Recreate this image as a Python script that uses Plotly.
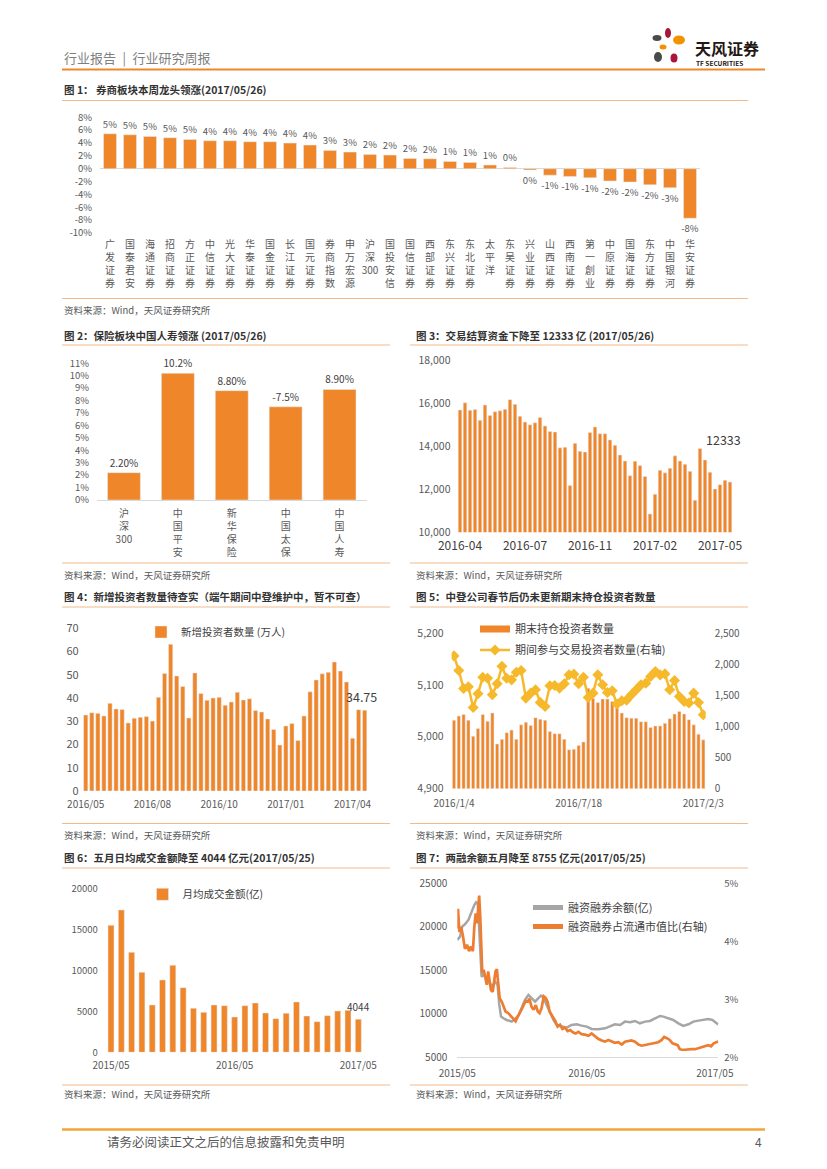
import plotly.graph_objects as go
import pandas as pd

W, H = 827, 1169
FONT = "Noto Sans CJK SC"
ORANGE = "#F0862A"
GOLD = "#F6B92B"
GREY_LINE = "#A6A6A6"
LINE_ORANGE = "#ED7D31"
AXIS_TXT = "#595959"
SEP = "#F4B98A"


def px(x):
    return x / W


def py(y):
    return 1 - y / H


# ---------------- data ----------------
CATS1 = ["广发证券", "国泰君安", "海通证券", "招商证券", "方正证券", "中信证券", "光大证券", "华泰证券",
         "国金证券", "长江证券", "国元证券", "券商指数", "申万宏源", "沪深300", "国投安信", "国信证券",
         "西部证券", "东兴证券", "东北证券", "太平洋", "东吴证券", "兴业证券", "山西证券", "西南证券",
         "第一創业", "中原证券", "国海证券", "东方证券", "中国银河", "华安证券"]
VALS1 = [5.44, 5.28, 5.03, 4.82, 4.56, 4.35, 4.35, 4.2, 4.2, 3.99, 3.68, 2.85, 2.59, 2.23, 2.12, 1.6,
         1.55, 1.14, 0.98, 0.57, 0.2, -0.2, -1.0, -1.2, -1.4, -1.9, -2.07, -2.5, -2.95, -7.7]
Y1_TICKS = [8, 6, 4, 2, 0, -2, -4, -6, -8, -10]

CATS2 = ["沪深300", "中国平安", "新华保险", "中国太保", "中国人寿"]
VALS2 = [2.2, 10.2, 8.8, 7.5, 8.9]
LABELS2 = ["2.20%", "10.2%", "8.80%", "-7.5%", "8.90%"]
Y2_TICKS = list(range(0, 12))

VALS3 = [15680, 16010, 15670, 15700, 15200, 15910, 15420, 15600, 15640, 15710,
         16160, 15940, 15390, 15120, 14990, 15090, 15330, 14940, 14680, 14660,
         13920, 13950, 12170, 14130, 13760, 13730, 14630, 14890, 14580, 14580,
         14290, 14040, 13590, 13310, 12630, 13300, 13100, 12590, 10850, 11770,
         12880, 12760, 12970, 13550, 13310, 13160, 12830, 11490, 13890, 13360,
         12790, 12010, 12210, 12420, 12333]
X3_TICKPOS = [0, 13, 26, 39, 52]
X3_TICKS = ["2016-04", "2016-07", "2016-11", "2017-02", "2017-05"]

VALS4 = [32.7, 33.7, 33.4, 32.3, 37.7, 35.3, 35.1, 29.3, 31.3, 31.7,
         32.0, 30.1, 40.3, 50.6, 63.1, 49.5, 45.0, 31.4, 50.8, 42.0,
         39.0, 40.0, 40.3, 36.9, 38.3, 42.5, 39.2, 39.7, 34.6, 34.0,
         31.0, 26.5, 19.8, 28.0, 29.0, 21.7, 32.3, 42.7, 47.8, 50.4,
         51.1, 55.5, 51.6, 46.9, 22.7, 35.0, 34.75]
X4_TICKPOS = [0, 11, 22, 33, 44]
X4_TICKS = ["2016/05", "2016/08", "2016/10", "2017/01", "2017/04"]

BARS5 = [5032, 5040, 5043, 5032, 5001, 5016, 5043, 5030, 5046, 4986,
         4995, 5008, 5013, 4995, 5023, 5028, 5022, 5037, 5034, 5032,
         5010, 5006, 5006, 4995, 4975, 4976, 4983, 4990, 5094, 5074,
         5066, 5073, 5073, 5068, 5061, 5046, 5037, 5036, 5036, 5029,
         5029, 5018, 5021, 5021, 5026, 5035, 5044, 5049, 5044, 5033,
         5023, 5005, 4994]
LINE5 = [2136, 1900, 1611, 1638, 1306, 1526, 1793, 1777, 1510, 1686,
         1970, 1777, 1750, 1874, 1900, 1456, 1536, 1590, 1387, 1322,
         1654, 1660, 1617, 1686, 1831, 1842, 1686, 1793, 1467, 1536,
         1831, 1670, 1547, 1574, 1360, 1413, 1424, 1509, 1590, 1670,
         1697, 1803, 1884, 1830, 1846, 1590, 1739, 1482, 1402, 1376,
         1536, 1386, 1188]
X5_TICKPOS = [0, 26, 52]
X5_TICKS = ["2016/1/4", "2016/7/18", "2017/2/3"]

VALS6 = [15488, 17358, 12195, 9756, 5772, 8821, 10610, 7886, 5366, 4878, 5772, 5691, 4309,
         5691, 6016, 4797, 4106, 4756, 6138, 4431, 3740, 4472, 5041, 5122, 4044]
X6_TICKPOS = [0, 12, 24]
X6_TICKS = ["2015/05", "2016/05", "2017/05"]

START7 = "2015-05-04"
DAYS7_BAL = [0, 8, 14, 22, 32, 41, 49, 54, 59, 62, 66, 70, 76, 85, 94, 101, 109, 116, 121, 126,
             133, 142, 157, 168, 176, 185, 195, 205, 214, 224, 233, 241, 248, 257, 267, 277, 286,
             301, 315, 329, 344, 358, 373, 387, 406, 426, 440, 454, 469, 483, 498, 512, 526, 541,
             555, 570, 584, 594, 608, 622, 637, 651, 666, 680, 695, 709, 723, 735, 744, 752]
BAL7 = [18490, 18870, 20020, 20290, 20790, 21740, 22510, 22820, 22700, 20590, 17910, 14270, 14460,
        14080, 13510, 13120, 13700, 13310, 11015, 9674, 9483, 9291, 9100, 9483, 9789, 10632, 11590,
        12165, 11782, 11400, 11782, 12088, 11858, 11015, 10250, 9291, 8716, 8525, 8410, 8716, 8793,
        8640, 8525, 8257, 8218, 8333, 8525, 8793, 8716, 9100, 9023, 9176, 8908, 9100, 9176, 9483,
        9751, 9674, 9483, 9291, 8908, 8602, 8793, 9100, 9215, 9330, 9406, 9291, 9023, 8755]
DAYS7_RATIO = [0, 2, 6, 11, 16, 22, 28, 34, 39, 45, 49, 53, 57, 61, 63, 66, 69, 72, 76, 81, 85, 89,
               93, 97, 102, 107, 110, 114, 118, 122, 128, 134, 139, 147, 155, 161, 168, 174, 180,
               185, 191, 197, 203, 208, 214, 220, 226, 232, 237, 243, 249, 255, 260, 266, 272, 278,
               283, 289, 296, 303, 310, 318, 326, 333, 341, 349, 358, 368, 378, 387, 397, 406, 416,
               426, 435, 445, 454, 464, 474, 483, 493, 502, 512, 522, 531, 541, 550, 560, 570, 579,
               589, 596, 604, 612, 620, 627, 635, 641, 647, 656, 666, 675, 685, 695, 704, 714, 723,
               731, 739, 746, 752]
RATIO7 = [4.22, 4.56, 4.16, 4.25, 4.10, 3.87, 3.94, 3.83, 3.91, 3.83, 4.25, 4.48, 4.31, 4.71, 4.79,
          4.45, 3.76, 3.45, 3.51, 3.39, 3.25, 3.48, 3.33, 3.16, 3.13, 3.39, 3.48, 3.52, 3.31, 3.02,
          2.96, 2.85, 2.79, 2.76, 2.70, 2.67, 2.62, 2.70, 2.76, 2.82, 2.90, 2.97, 2.96, 3.01, 2.87,
          2.82, 2.90, 2.79, 2.76, 2.85, 3.05, 3.02, 2.96, 2.79, 2.73, 2.67, 2.62, 2.53, 2.56, 2.49,
          2.51, 2.45, 2.47, 2.43, 2.41, 2.44, 2.40, 2.39, 2.37, 2.41, 2.36, 2.32, 2.29, 2.27, 2.30,
          2.28, 2.25, 2.26, 2.22, 2.27, 2.28, 2.29, 2.27, 2.22, 2.20, 2.21, 2.22, 2.24, 2.24, 2.26,
          2.30, 2.35, 2.33, 2.30, 2.24, 2.22, 2.21, 2.14, 2.13, 2.13, 2.14, 2.14, 2.14, 2.16, 2.18,
          2.19, 2.21, 2.19, 2.24, 2.26, 2.27]
X7_TICKVALS = ["2015-05-04", "2016-05-11", "2017-05-15"]
X7_TICKS = ["2015/05", "2016/05", "2017/05"]

SOURCE = "资料来源：Wind，天风证券研究所"


def stack(s):
    # vertical stacked label (digits kept together)
    parts, buf = [], ""
    for ch in s:
        if ch.isdigit():
            buf += ch
        else:
            if buf:
                parts.append(buf)
                buf = ""
            parts.append(ch)
    if buf:
        parts.append(buf)
    return "<br>".join(parts)


def dates(days):
    base = pd.Timestamp(START7)
    return [(base + pd.Timedelta(days=d)).strftime("%Y-%m-%d") for d in days]


fig = go.Figure()

# Fig 1
fig.add_trace(go.Bar(x=CATS1, y=VALS1, xaxis="x", yaxis="y", marker_color=ORANGE, width=0.65,
                     text=[f"{int(round(v))}%" for v in VALS1], textposition="outside",
                     textfont=dict(size=9.5, color=AXIS_TXT, family=FONT), cliponaxis=False,
                     constraintext="none", showlegend=False))
# Fig 2
fig.add_trace(go.Bar(x=CATS2, y=VALS2, xaxis="x2", yaxis="y2", marker_color=ORANGE, width=0.61,
                     text=LABELS2, textposition="outside",
                     textfont=dict(size=10, color="#404040", family=FONT), cliponaxis=False,
                     constraintext="none", showlegend=False))
# Fig 3
fig.add_trace(go.Bar(x=list(range(len(VALS3))), y=VALS3, xaxis="x3", yaxis="y3", marker_color=ORANGE,
                     width=0.72, showlegend=False))
# Fig 4
fig.add_trace(go.Bar(x=list(range(len(VALS4))), y=VALS4, xaxis="x4", yaxis="y4", marker_color=ORANGE,
                     width=0.7, name="新增投资者数量 (万人)", legend="legend", showlegend=True))
# Fig 5
fig.add_trace(go.Scatter(x=[None], y=[None], xaxis="x5", yaxis="y5", mode="lines",
                         line=dict(color=ORANGE, width=7), name="期末持仓投资者数量",
                         legend="legend2", legendgroup="a"))
fig.add_trace(go.Bar(x=list(range(len(BARS5))), y=BARS5, xaxis="x5", yaxis="y5", marker_color=ORANGE,
                     width=0.68, showlegend=False))
fig.add_trace(go.Scatter(x=list(range(len(LINE5))), y=LINE5, xaxis="x5", yaxis="y6", mode="lines+markers",
                         line=dict(color=GOLD, width=2.5),
                         marker=dict(symbol="diamond", size=8.5, color=GOLD),
                         name="期间参与交易投资者数量(右轴)", legend="legend2", legendgroup="b"))
# Fig 6
fig.add_trace(go.Bar(x=list(range(len(VALS6))), y=VALS6, xaxis="x6", yaxis="y7", marker_color=ORANGE,
                     width=0.58, name="月均成交金额(亿)", legend="legend3", showlegend=True))
# Fig 7
fig.add_trace(go.Scatter(x=dates(DAYS7_BAL), y=BAL7, xaxis="x7", yaxis="y8", mode="lines",
                         line=dict(color=GREY_LINE, width=2.5), showlegend=False))
fig.add_trace(go.Scatter(x=dates(DAYS7_RATIO), y=RATIO7, xaxis="x7", yaxis="y9", mode="lines",
                         line=dict(color=LINE_ORANGE, width=2.7), showlegend=False))
fig.add_trace(go.Scatter(x=[None], y=[None], xaxis="x7", yaxis="y8", mode="lines",
                         line=dict(color=GREY_LINE, width=5), name="融资融券余额(亿)",
                         legend="legend4"))
fig.add_trace(go.Scatter(x=[None], y=[None], xaxis="x7", yaxis="y8", mode="lines",
                         line=dict(color=LINE_ORANGE, width=5), name="融资融券占流通市值比(右轴)",
                         legend="legend4"))


def ax(**kw):
    d = dict(showgrid=False, zeroline=False, showline=False, ticks="", fixedrange=True,
             automargin=False, tickfont=dict(family=FONT, size=10, color=AXIS_TXT))
    d.update(kw)
    return d


def tf(size, color=AXIS_TXT):
    return dict(family=FONT, size=size, color=color)


layout = dict(
    width=W, height=H, margin=dict(l=0, r=0, t=0, b=0, pad=0, autoexpand=False),
    paper_bgcolor="white", plot_bgcolor="rgba(0,0,0,0)",
    font=dict(family=FONT, color="#404040"),
    barmode="overlay",
    # fig1
    xaxis=ax(domain=[px(100), px(700)], anchor="y", type="category", range=[-0.5, 29.5],
             tickvals=CATS1, ticktext=[stack(c) for c in CATS1], tickangle=0,
             tickfont=tf(10), ticklabelstandoff=4),
    yaxis=ax(domain=[py(233), py(117.3)], anchor="x", range=[-10, 8], tickvals=Y1_TICKS,
             ticktext=[f"{t}%" for t in Y1_TICKS], zeroline=True, zerolinecolor="#D9D9D9",
             zerolinewidth=1, tickfont=tf(9.5), ticklabelstandoff=7),
    # fig2
    xaxis2=ax(domain=[px(97), px(366.5)], anchor="y2", type="category", range=[-0.5, 4.5],
              tickvals=CATS2, ticktext=[stack(c) for c in CATS2], tickangle=0,
              showline=True, linecolor="#D9D9D9", linewidth=1, tickfont=tf(10),
              ticklabelstandoff=4),
    yaxis2=ax(domain=[py(500), py(363.3)], anchor="x2", range=[0, 11], tickvals=Y2_TICKS,
              ticktext=[f"{t}%" for t in Y2_TICKS], tickfont=tf(9.5), ticklabelstandoff=7),
    # fig3
    xaxis3=ax(domain=[px(457.5), px(732.5)], anchor="y3", range=[-0.5, len(VALS3) - 0.5],
              tickvals=X3_TICKPOS, ticktext=X3_TICKS, tickfont=tf(12, "#404040"),
              ticklabelstandoff=5),
    yaxis3=ax(domain=[py(532.3), py(360)], anchor="x3", range=[10000, 18000], dtick=2000,
              tickformat=",", tickfont=tf(10.5), ticklabelstandoff=6),
    # fig4
    xaxis4=ax(domain=[px(82.7), px(367.7)], anchor="y4", range=[-0.5, len(VALS4) - 0.5],
              tickvals=X4_TICKPOS, ticktext=X4_TICKS, tickfont=tf(10), ticklabelstandoff=6),
    yaxis4=ax(domain=[py(791), py(628.3)], anchor="x4", range=[0, 70], dtick=10,
              tickfont=tf(11), ticklabelstandoff=3),
    # fig5
    xaxis5=ax(domain=[px(451.6), px(705.7)], anchor="y5", range=[-0.5, len(BARS5) - 0.5],
              tickvals=X5_TICKPOS, ticktext=X5_TICKS, tickfont=tf(10), ticklabelstandoff=7),
    yaxis5=ax(domain=[py(788.5), py(633.3)], anchor="x5", range=[4900, 5200], dtick=100,
              tickformat=",", tickfont=tf(10.5), ticklabelstandoff=7),
    yaxis6=ax(domain=[py(788.5), py(633.3)], anchor="x5", overlaying="y5", side="right",
              range=[0, 2500], dtick=500, tickformat=",", tickfont=tf(10), ticklabelstandoff=8),
    # fig6
    xaxis6=ax(domain=[px(105.85), px(363.45)], anchor="y7", range=[-0.5, len(VALS6) - 0.5],
              tickvals=X6_TICKPOS, ticktext=X6_TICKS, tickfont=tf(10), ticklabelstandoff=6),
    yaxis7=ax(domain=[py(1052.3), py(888.3)], anchor="x6", range=[0, 20000], dtick=5000,
              tickformat="d", tickfont=tf(9.5), ticklabelstandoff=7),
    # fig7
    xaxis7=ax(domain=[px(457.3), px(718.3)], anchor="y8", type="date",
              range=[START7, "2017-05-25"], tickvals=X7_TICKVALS, ticktext=X7_TICKS,
              showline=True, linecolor="#D9D9D9", linewidth=1, tickfont=tf(10),
              ticklabelstandoff=7),
    yaxis8=ax(domain=[py(1057.3), py(883.3)], anchor="x7", range=[5000, 25000], dtick=5000,
              tickformat="d", tickfont=tf(10), ticklabelstandoff=9),
    yaxis9=ax(domain=[py(1057.3), py(883.3)], anchor="x7", overlaying="y8", side="right",
              range=[2, 5], dtick=1, ticksuffix="%", tickfont=tf(9.5), ticklabelstandoff=5),
    legend=dict(x=px(141), y=py(632), xanchor="left", yanchor="middle", bgcolor="rgba(0,0,0,0)",
                font=tf(10.5, "#404040")),
    legend2=dict(x=px(475), y=py(639.5), xanchor="left", yanchor="middle", bgcolor="rgba(0,0,0,0)",
                 font=tf(11, "#404040"), tracegroupgap=2),
    legend3=dict(x=px(142.5), y=py(894.3), xanchor="left", yanchor="middle", bgcolor="rgba(0,0,0,0)",
                 font=tf(10.5, "#404040")),
    legend4=dict(x=px(528), y=py(917), xanchor="left", yanchor="middle", bgcolor="rgba(0,0,0,0)",
                 font=tf(11, "#404040")),
)
fig.update_layout(**layout)

shapes = []


def hline(y, x0, x1, color=SEP, width=1):
    shapes.append(dict(type="line", xref="paper", yref="paper", x0=px(x0), x1=px(x1),
                       y0=py(y), y1=py(y), line=dict(color=color, width=width)))


hline(69.5, 62, 765, "#F0862A", 2)
hline(1129.5, 62, 765, "#F2A33A", 2.5)
hline(100.5, 62, 748)
hline(298.5, 62, 748)
for yt, yb in [(345, 563), (607, 823.5), (868, 1085)]:
    hline(yt, 62, 390)
    hline(yb, 62, 390)
    hline(yt, 410, 748)
    hline(yb, 410, 748)

# logo petals
PETALS = [(668, 33, 6, 10, "#A8163C"), (657, 38, 9, 6, "#4A4A4A"), (679, 40, 12, 9, "#F39200"),
          (663, 47, 7, 5, "#F39200"), (658, 57, 8, 10, "#4A4A4A"), (674, 58, 7, 9, "#A8163C")]
for cx, cy, w, h, c in PETALS:
    shapes.append(dict(type="circle", xref="paper", yref="paper", x0=px(cx - w / 2), x1=px(cx + w / 2),
                       y0=py(cy + h / 2), y1=py(cy - h / 2), fillcolor=c, line=dict(width=0)))

fig.update_layout(shapes=shapes)

ann = []


def text(x, y, s, size, color="#333333", bold=False, xanchor="left"):
    ann.append(dict(xref="paper", yref="paper", x=px(x), y=py(y), text=f"<b>{s}</b>" if bold else s,
                    showarrow=False, xanchor=xanchor, yanchor="middle",
                    font=dict(family=FONT, size=size, color=color)))


text(62, 57, "行业报告\u2002|\u2002行业研究周报", 13, "#7F7F7F")
text(693, 48, "天风证券", 16, "#231815", bold=True)
text(694, 63, "TF SECURITIES", 6.5, "#231815", bold=True)
text(105, 1141.5, "请务必阅读正文之后的信息披露和免责申明", 12.5, "#595959")
text(764, 1141.5, "4", 12, "#595959", xanchor="right")

text(62, 89.5, "图 1： 券商板块本周龙头领涨(2017/05/26)", 10.5, bold=True)
text(62, 335.5, "图 2：保险板块中国人寿领涨 (2017/05/26)", 10.5, bold=True)
text(414, 335.5, "图 3：交易结算资金下降至 12333 亿 (2017/05/26)", 10.5, bold=True)
text(62, 596.5, "图 4：新增投资者数量待查实（端午期间中登维护中，暂不可查）", 10.5, bold=True)
text(414, 596.5, "图 5：中登公司春节后仍未更新期末持仓投资者数量", 10.5, bold=True)
text(62, 857.5, "图 6：五月日均成交金额降至 4044 亿元(2017/05/25)", 10.5, bold=True)
text(414, 857.5, "图 7：两融余额五月降至 8755 亿元(2017/05/25)", 10.5, bold=True)

for sx, sy in [(62, 310), (62, 575), (414, 575), (62, 834.5), (414, 834.5), (62, 1094), (414, 1094)]:
    text(sx, sy, SOURCE, 9.5, "#595959")

# value callouts on last bars
ann.append(dict(xref="x3", yref="y3", x=len(VALS3) - 1, y=VALS3[-1], text=str(VALS3[-1]),
                showarrow=False, xshift=-7, yshift=43, yanchor="middle",
                font=dict(family=FONT, size=12.5, color="#404040")))
ann.append(dict(xref="x4", yref="y4", x=len(VALS4) - 1, y=VALS4[-1], text=f"{VALS4[-1]:.2f}",
                showarrow=False, xshift=-3, yshift=14, yanchor="middle",
                font=dict(family=FONT, size=12.5, color="#404040")))
ann.append(dict(xref="x6", yref="y7", x=len(VALS6) - 1, y=VALS6[-1], text=str(VALS6[-1]),
                showarrow=False, yshift=12.5, yanchor="middle",
                font=dict(family=FONT, size=10, color="#404040")))

fig.update_layout(annotations=ann)
fig.write_html("out.html", config={"displayModeBar": False},
               post_script="document.body.style.margin='0px';document.body.style.padding='0px';")
